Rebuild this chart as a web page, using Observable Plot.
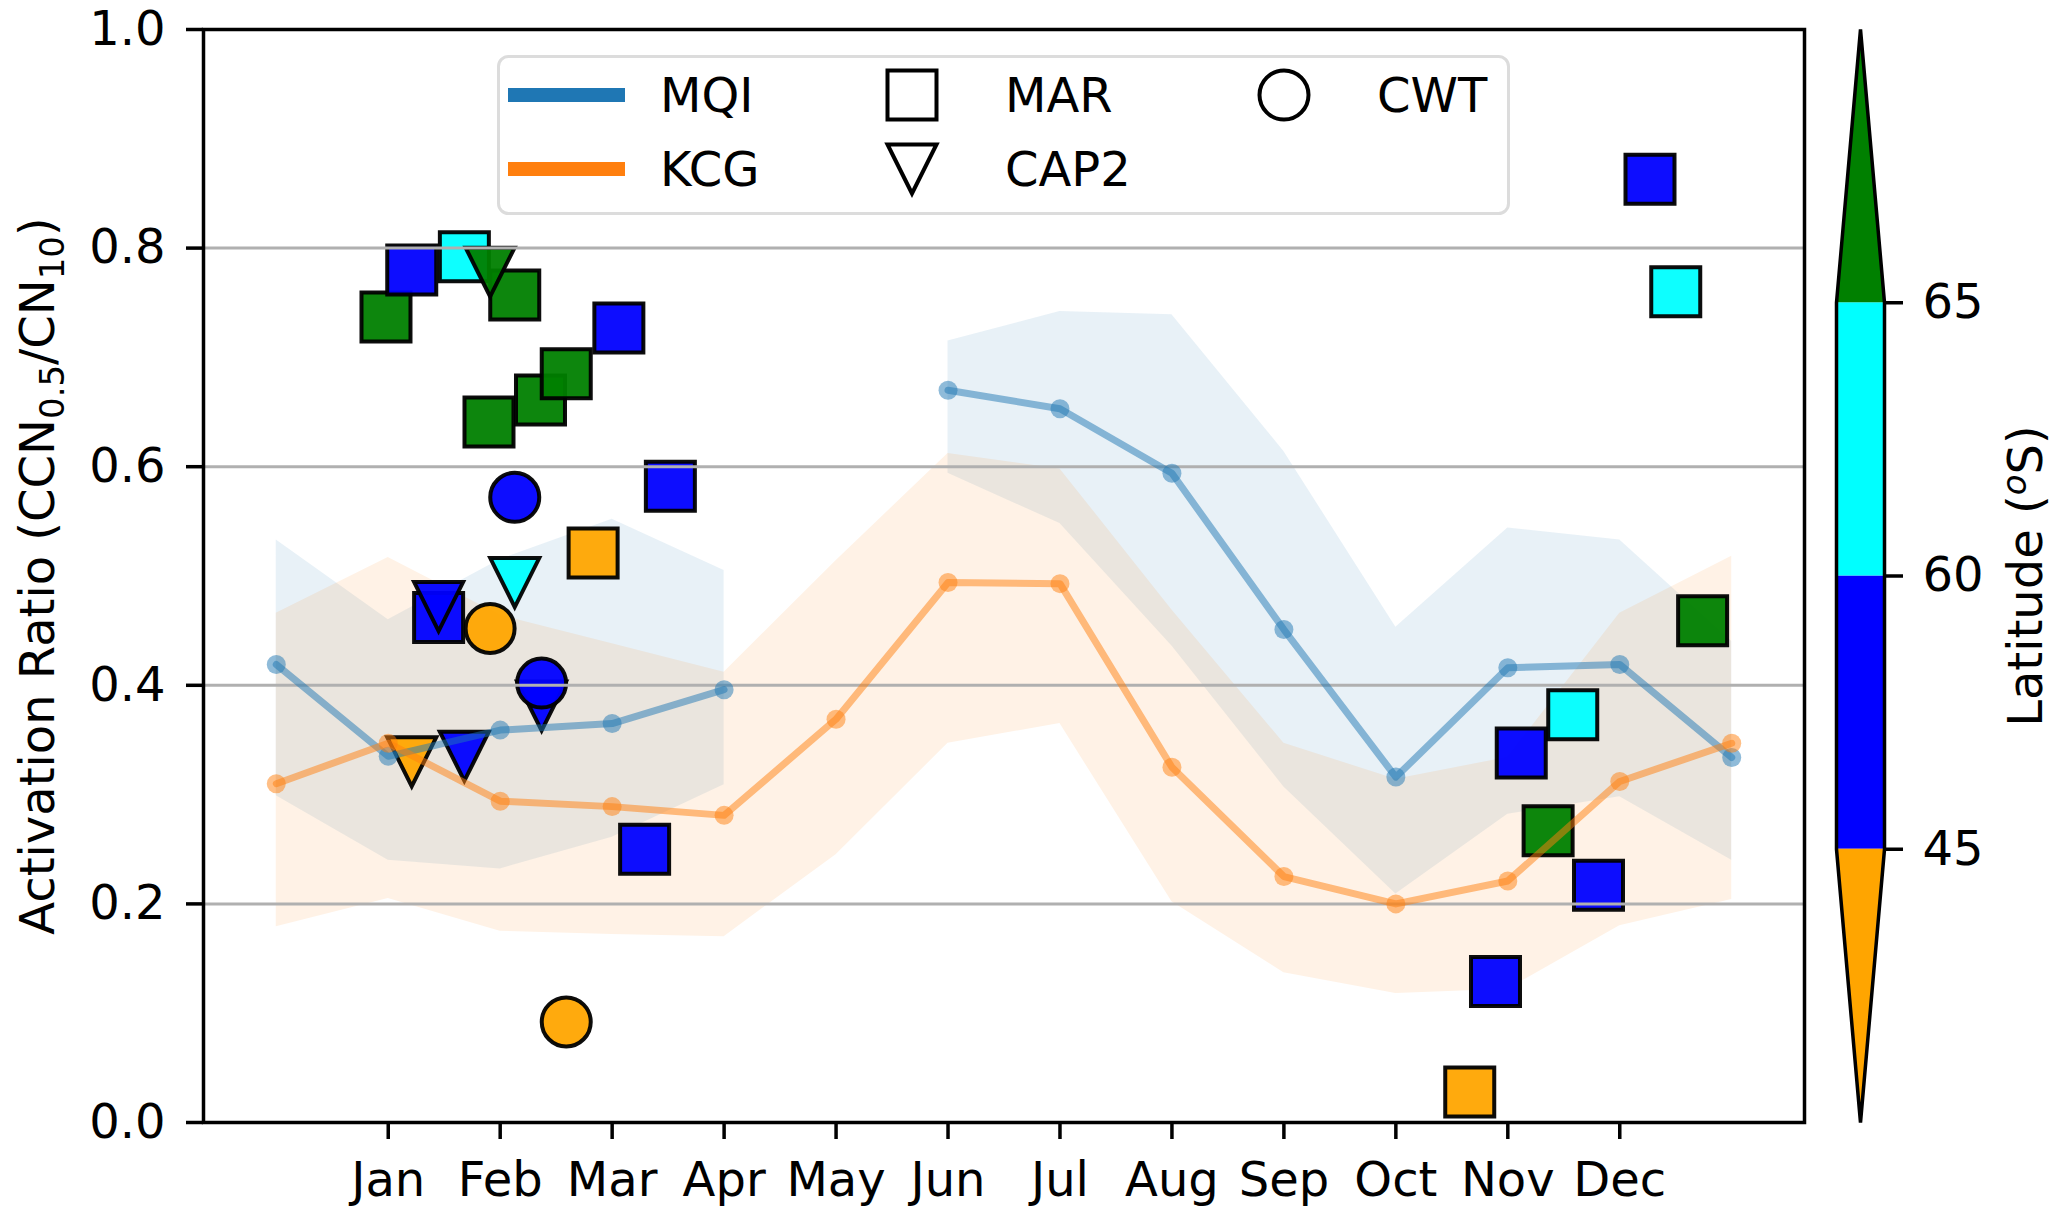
<!DOCTYPE html>
<html>
<head>
<meta charset="utf-8">
<script src="https://cdn.jsdelivr.net/npm/d3@7"></script>
<script src="https://cdn.jsdelivr.net/npm/@observablehq/plot@0.6"></script>
<style>
  html, body { margin: 0; padding: 0; background: #fff; }
  #wrap { position: relative; width: 2067px; height: 1218px; overflow: hidden; font-family: "DejaVu Sans"; background: #fff; }
  #wrap > svg { position: absolute; }
</style>
</head>
<body>
<div id="wrap"></div>
<script>
// ---------------- DATA ----------------
const months = ["Jan","Feb","Mar","Apr","May","Jun","Jul","Aug","Sep","Oct","Nov","Dec"];
const tickMonths = [1,2,3,4,5,6,7,8,9,10,11,12];
const yTicks = [0, 0.2, 0.4, 0.6, 0.8, 1.0];
const gridTicks = [0.2, 0.4, 0.6, 0.8];

// monthly climatology (index 0 = Dec of previous year, 13 = Jan of next year)
const monthIdx = [0,1,2,3,4,5,6,7,8,9,10,11,12,13];
const mqi      = [0.419,0.335,0.359,0.365,0.396,NaN,0.670,0.653,0.594,0.451,0.316,0.416,0.419,0.334];
const mqiUpper = [0.533,0.460,0.515,0.552,0.505,NaN,0.715,0.742,0.739,0.614,0.453,0.544,0.533,0.440];
const mqiLower = [0.299,0.240,0.232,0.261,0.309,NaN,0.594,0.548,0.436,0.307,0.209,0.282,0.298,0.240];
const kcg      = [0.310,0.347,0.294,0.289,0.281,0.369,0.494,0.493,0.325,0.225,0.200,0.221,0.312,0.347];
const kcgUpper = [0.466,0.517,0.464,0.438,0.412,0.514,0.612,0.598,0.469,0.347,0.314,0.334,0.466,0.518];
const kcgLower = [0.179,0.205,0.175,0.172,0.170,0.245,0.347,0.365,0.202,0.137,0.118,0.122,0.180,0.204];

// latitude bands (colour bar)
const latTicks = [45, 60, 65];
const latBands = ["<45", "45-60", "60-65", ">65"];
const latColors = ["orange", "blue", "cyan", "green"];

// voyages: MAR (squares)
const marX   = [0.98,1.21,1.45,1.68,1.90,2.13,2.36,2.59,2.83,3.06,3.29,3.52,10.66,10.89,11.12,11.36,11.58,11.81,12.27,12.50,12.74];
const marY   = [0.737,0.780,0.462,0.792,0.641,0.757,0.661,0.685,0.521,0.727,0.250,0.582,0.028,0.129,0.338,0.267,0.373,0.217,0.863,0.760,0.459];
const marLat = [">65","45-60","45-60","60-65",">65",">65",">65",">65","<45","45-60","45-60","45-60","<45","45-60","45-60",">65","60-65","45-60","45-60","60-65",">65"];
// CAP2 (downward triangles)
const capX   = [1.21,1.45,1.68,1.91,2.13,2.37];
const capY   = [0.330,0.472,0.335,0.778,0.494,0.381];
const capLat = ["<45","45-60","45-60",">65","60-65","45-60"];
// CWT (circles)
const cwtX   = [1.91,2.13,2.37,2.59];
const cwtY   = [0.452,0.572,0.402,0.092];
const cwtLat = ["<45","45-60","45-60","<45"];

const stations = ["MQI", "KCG"];
const stationColors = ["#1f77b4", "#ff7f0e"];
const campaigns = ["MAR", "CAP2", "CWT"];

const yLabel = "Activation Ratio (CCN0.5/CN10)";
const cbarLabel = "Latitude (oS)";

// ---------------- SYMBOLS ----------------
const squareSym = { draw(ctx, size) { const r = Math.sqrt(size / Math.PI);
  ctx.moveTo(-r, -r); ctx.lineTo(r, -r); ctx.lineTo(r, r); ctx.lineTo(-r, r); ctx.closePath(); } };
const triDownSym = { draw(ctx, size) { const r = Math.sqrt(size / Math.PI);
  ctx.moveTo(0, r); ctx.lineTo(-r, -r); ctx.lineTo(r, -r); ctx.closePath(); } };

const FONT = 48;
const MS = 24.5;
const idx = a => a.map((_, i) => i);

const scatterStyle = { r: MS, stroke: "black", strokeWidth: 4, fillOpacity: 0.95, strokeOpacity: 0.95, strokeLinejoin: "miter" };

// ---------------- MAIN CHART ----------------
const main = Plot.plot({
  width: 1830, height: 1218,
  marginLeft: 203, marginRight: 26, marginTop: 29, marginBottom: 96,
  style: { fontFamily: "DejaVu Sans", fontSize: FONT + "px", background: "transparent", overflow: "visible" },
  x: { domain: [-0.65, 13.65] },
  y: { domain: [0, 1] },
  color: { type: "ordinal", domain: latBands, range: latColors },
  marks: [
    Plot.areaY(monthIdx, { x: monthIdx, y1: mqiLower, y2: mqiUpper, fill: stationColors[0], fillOpacity: 0.1 }),
    Plot.areaY(monthIdx, { x: monthIdx, y1: kcgLower, y2: kcgUpper, fill: stationColors[1], fillOpacity: 0.1 }),
    Plot.dot(idx(marX), { x: marX, y: marY, fill: marLat, symbol: squareSym, ...scatterStyle }),
    Plot.dot(idx(capX), { x: capX, y: capY, fill: capLat, symbol: triDownSym, ...scatterStyle }),
    Plot.dot(idx(cwtX), { x: cwtX, y: cwtY, fill: cwtLat, ...scatterStyle }),
    Plot.gridY(gridTicks, { stroke: "#b0b0b0", strokeOpacity: 1, strokeWidth: 3 }),
    Plot.line(monthIdx, { x: monthIdx, y: mqi, stroke: stationColors[0], strokeOpacity: 0.5, strokeWidth: 7 }),
    Plot.dot(monthIdx, { x: monthIdx, y: mqi, r: 9.5, fill: stationColors[0], fillOpacity: 0.5 }),
    Plot.line(monthIdx, { x: monthIdx, y: kcg, stroke: stationColors[1], strokeOpacity: 0.5, strokeWidth: 7 }),
    Plot.dot(monthIdx, { x: monthIdx, y: kcg, r: 9.5, fill: stationColors[1], fillOpacity: 0.5 }),
    Plot.frame({ stroke: "black", strokeWidth: 3.5 }),
    Plot.axisX(tickMonths, { tickFormat: d => months[d - 1], tickSize: 17, tickPadding: 22, fontSize: FONT, strokeWidth: 3.5, label: null }),
    Plot.axisY(yTicks, { tickFormat: d3.format(".1f"), tickSize: 17, tickPadding: 21, fontSize: FONT, strokeWidth: 3.5, label: null }),
    Plot.text([yLabel], { text: d => d, frameAnchor: "left", textAnchor: "middle", lineAnchor: "middle", rotate: -90, dx: -165, fontSize: FONT })
  ]
});
main.style.left = "0px"; main.style.top = "0px";

// subscripts in y label
const NS = "http://www.w3.org/2000/svg";
function richText(root, plain, parts) {
  root.querySelectorAll("text").forEach(el => {
    if (el.textContent === plain) {
      el.textContent = "";
      for (const [s, kind] of parts) {
        const t = document.createElementNS(NS, "tspan");
        t.textContent = s;
        if (kind === "sub") { t.setAttribute("font-size", Math.round(FONT * 0.7)); t.setAttribute("baseline-shift", "-10"); }
        if (kind === "sup") { t.setAttribute("font-size", Math.round(FONT * 0.7)); t.setAttribute("baseline-shift", "16"); t.setAttribute("font-style", "italic"); }
        el.appendChild(t);
      }
    }
  });
}
richText(main, yLabel, [["Activation Ratio (CCN", ""], ["0.5", "sub"], ["/CN", ""], ["10", "sub"], [")", ""]]);

// ---------------- COLOUR BAR ----------------
const nB = latColors.length;
const midSegs = d3.range(1, nB - 1);
const lowTri = [{ x: 0, y1: 1, y2: 1 }, { x: 0.5, y1: 0, y2: 1 }, { x: 1, y1: 1, y2: 1 }];
const highTri = [{ x: 0, y1: nB - 1, y2: nB - 1 }, { x: 0.5, y1: nB - 1, y2: nB }, { x: 1, y1: nB - 1, y2: nB - 1 }];
const outline = [[0, 1], [0.5, 0], [1, 1], [1, nB - 1], [0.5, nB], [0, nB - 1], [0, 1]];

const cbar = Plot.plot({
  width: 257, height: 1218,
  marginLeft: 26, marginRight: 183, marginTop: 29, marginBottom: 96,
  style: { fontFamily: "DejaVu Sans", fontSize: FONT + "px", background: "transparent", overflow: "visible" },
  x: { domain: [0, 1], axis: null },
  y: { domain: [0, nB], axis: null },
  color: { type: "ordinal", domain: latBands, range: latColors },
  marks: [
    Plot.rect(midSegs, { x1: 0, x2: 1, y1: d => d, y2: d => d + 1, fill: d => latBands[d] }),
    Plot.areaY(lowTri, { x: "x", y1: "y1", y2: "y2", fill: () => latBands[0] }),
    Plot.areaY(highTri, { x: "x", y1: "y1", y2: "y2", fill: () => latBands[nB - 1] }),
    Plot.line(outline, { x: d => d[0], y: d => d[1], stroke: "black", strokeWidth: 3.5, strokeLinejoin: "miter" }),
    Plot.axisY(d3.range(1, nB), { anchor: "right", tickFormat: d => latTicks[d - 1], tickSize: 18, tickPadding: 20, fontSize: FONT, strokeWidth: 3.5, label: null }),
    Plot.text([cbarLabel], { text: d => d, frameAnchor: "right", textAnchor: "middle", lineAnchor: "middle", rotate: -90, dx: 142, fontSize: FONT })
  ]
});
cbar.style.left = "1810px"; cbar.style.top = "0px";
richText(cbar, cbarLabel, [["Latitude (", ""], ["o", "sup"], ["S)", ""]]);

// ---------------- LEGEND ----------------
const leg = d3.create("svg").attr("width", 1013).attr("height", 160)
  .style("left", "497px").style("top", "55px")
  .attr("font-family", "DejaVu Sans").attr("font-size", FONT);
leg.append("rect").attr("x", 1.5).attr("y", 1.5).attr("width", 1010).attr("height", 157).attr("rx", 10)
  .attr("fill", "white").attr("fill-opacity", 0.8).attr("stroke", "#dcdcdc").attr("stroke-width", 3);
const rowY = [40, 114];
stations.forEach((s, i) => {
  leg.append("line").attr("x1", 11).attr("x2", 128).attr("y1", rowY[i]).attr("y2", rowY[i])
    .attr("stroke", stationColors[i]).attr("stroke-width", 14);
  leg.append("text").attr("x", 163).attr("y", rowY[i] + 17).text(s);
});
const symPos = [[415, rowY[0]], [415, rowY[1]], [787, rowY[0]]];
const symTypes = [squareSym, triDownSym, d3.symbolCircle];
campaigns.forEach((c, i) => {
  const [cx, cy] = symPos[i];
  leg.append("path").attr("transform", `translate(${cx},${cy})`)
    .attr("d", d3.symbol(symTypes[i], Math.PI * MS * MS)())
    .attr("fill", "none").attr("stroke", "black").attr("stroke-width", 4).attr("stroke-linejoin", "miter");
  leg.append("text").attr("x", cx + 93).attr("y", cy + 17).text(c);
});

const wrap = document.getElementById("wrap");
wrap.appendChild(main);
wrap.appendChild(cbar);
wrap.appendChild(leg.node());
</script>
</body>
</html>
